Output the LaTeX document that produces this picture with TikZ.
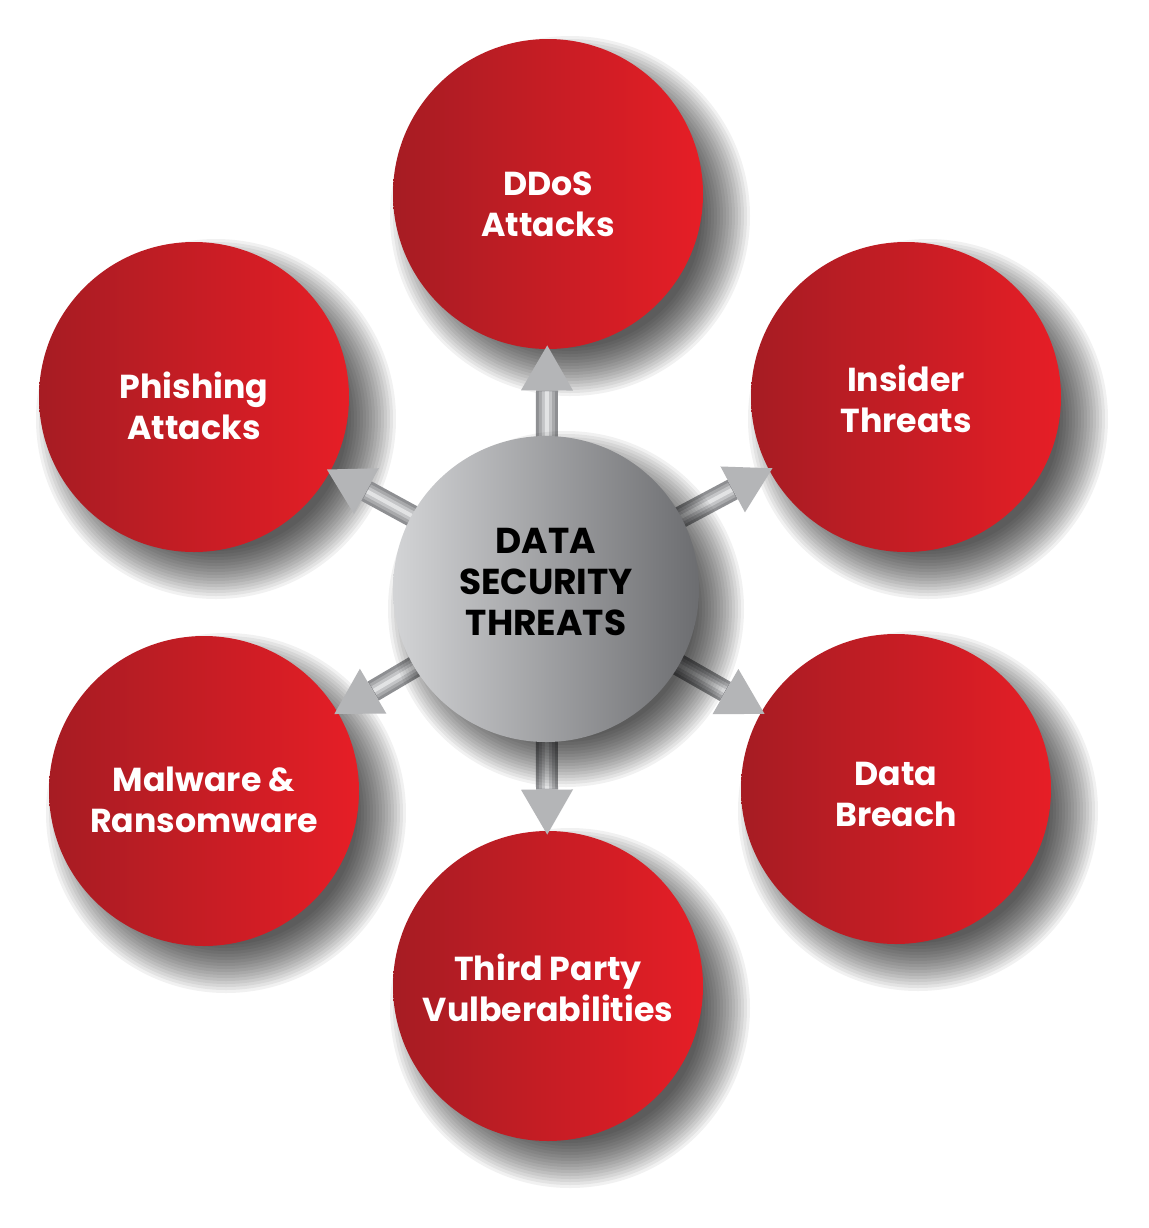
\documentclass[tikz,border=0pt]{standalone}
\usepackage{fontspec}
\setmainfont{Poppins}
\usetikzlibrary{arrows.meta}
\definecolor{reddark}{HTML}{A61C23}
\definecolor{redlight}{HTML}{E61E26}
\definecolor{grayL}{HTML}{D3D4D6}
\definecolor{grayM}{HTML}{B3B4B6}
\definecolor{grayD}{HTML}{6C6D70}
\definecolor{arrowA}{HTML}{8E8F92}
\definecolor{arrowB}{HTML}{A8A9AB}
\definecolor{arrowC}{HTML}{C4C5C7}
\definecolor{arrowD}{HTML}{E2E3E4}
\definecolor{arrowhead}{HTML}{B4B5B7}
\begin{document}
\begin{tikzpicture}[x=0.5pt,y=-0.5pt,
  threat/.style={circle, minimum size=155pt, inner sep=0pt,
    left color=reddark, right color=redlight},
  threatlabel/.style={text=white, align=center, inner sep=0pt,
    font=\bfseries\fontsize{16.6}{20.5}\selectfont},
  hub/.style={circle, minimum size=153pt, inner sep=0pt,
    left color=grayL, middle color=grayM, right color=grayD},
  hublabel/.style={text=black, align=center, inner sep=0pt,
    font=\bfseries\fontsize{18}{20.7}\selectfont},
  shadowring/.style={fill=black, fill opacity=0.055},
  arrowbase/.style={draw=arrowA, line width=11pt, shorten >=-2pt,
    -{Triangle[length=22.5pt,width=26pt,line width=0pt,color=arrowhead]}},
  arrowmid/.style={draw=arrowB, line width=8pt, shorten >=21pt},
  arrowhigh/.style={draw=arrowC, line width=5pt, shorten >=21pt},
  arrowtop/.style={draw=arrowD, line width=2pt, shorten >=21pt},
]
\useasboundingbox (0,0) rectangle (1148,1228);
\fill[white] (0,0) rectangle (1148,1228);

% positions
\coordinate (p1) at (548,194);
\coordinate (p2) at (906,397);
\coordinate (p3) at (896,789);
\coordinate (p4) at (548,986);
\coordinate (p5) at (204,791);
\coordinate (p6) at (194,397);
\coordinate (hc) at (546,589);

% soft shadows
\foreach \p in {p1,p2,p3,p4,p5,p6}{
  \foreach \i in {0,...,16}{
    \fill[shadowring] ([shift={(11pt,-11pt)}]\p) circle ({66pt+1.5pt*\i});
  }
}

% outer circles
\node[threat] (ddos) at (p1) {};
\node[threat] (insider) at (p2) {};
\node[threat] (breach) at (p3) {};
\node[threat] (third) at (p4) {};
\node[threat] (malware) at (p5) {};
\node[threat] (phish) at (p6) {};

\node[threatlabel] (lddos) at ([yshift=-5pt]ddos) {DDoS\\Attacks};
\node[threatlabel] (linsider) at ([yshift=-1pt]insider) {Insider\\Threats};
\node[threatlabel] (lbreach) at ([yshift=-2.5pt]breach) {Data\\Breach};
\node[threatlabel] (lthird) at ([yshift=-1pt]third) {Third Party\\Vulberabilities};
\node[threatlabel] (lmalware) at ([yshift=-4.5pt]malware) {Malware \&\\Ransomware};
\node[threatlabel] (lphish) at ([yshift=-4.5pt]phish) {Phishing\\Attacks};

% block arrows from the hub
\foreach \t in {ddos,insider,breach,third,malware,phish}{
  \draw[arrowbase] (hc) -- (\t);
  \draw[arrowmid] (hc) -- (\t);
  \draw[arrowhigh] (hc) -- (\t);
  \draw[arrowtop] (hc) -- (\t);
}

% hub
\foreach \i in {0,...,16}{
  \fill[shadowring] ([shift={(10pt,-10pt)}]hc) circle ({65pt+1.5pt*\i});
}
\node[hub] (hub) at (hc) {};
\node[hublabel] (lhub) at ([yshift=3.5pt]hub) {DATA\\SECURITY\\THREATS};
\end{tikzpicture}
\end{document}
